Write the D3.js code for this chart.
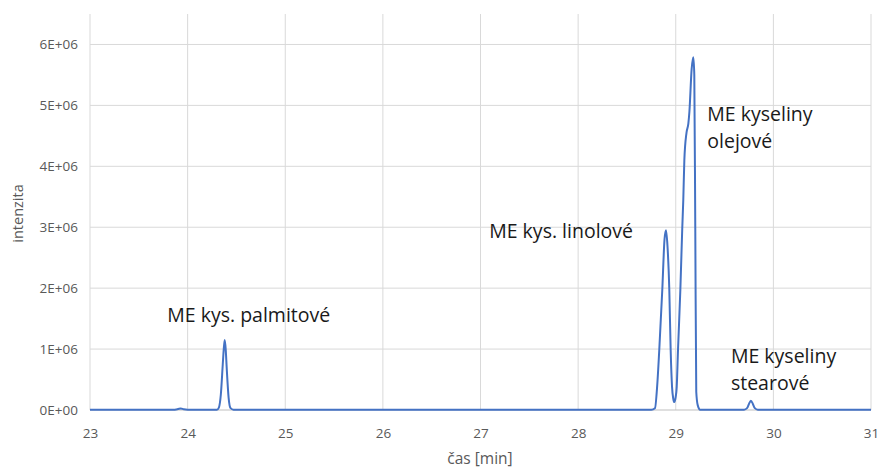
<!DOCTYPE html>
<html>
<head>
<meta charset="utf-8">
<script src="https://cdn.jsdelivr.net/npm/d3@7"></script>
<style>
  html, body { margin: 0; padding: 0; background: #fff; }
  svg { display: block; }
</style>
</head>
<body>
<svg id="chart" width="882" height="470"></svg>
<script>
// Chromatogram trace: retention time [min] and detector intensity
const times = [
  23.00, 23.85, 23.90, 23.93, 23.96, 24.00,
  24.30, 24.32, 24.34, 24.36, 24.37, 24.38, 24.39, 24.40, 24.42, 24.44, 24.47,
  28.75, 28.787, 28.81, 28.831, 28.862, 28.885, 28.900, 28.915, 28.934, 28.948, 28.962, 28.975, 28.985,
  28.998, 29.010, 29.023, 29.047, 29.067, 29.077, 29.088, 29.110, 29.129, 29.140, 29.163, 29.180,
  29.190, 29.200, 29.210, 29.225, 29.250,
  29.70, 29.73, 29.75, 29.77, 29.79, 29.81, 29.84,
  31.00
];
const intensity = [
  5000, 5000, 15000, 25000, 12000, 5000,
  5000, 40000, 250000, 750000, 1000000, 1150000, 1000000, 700000, 200000, 30000, 5000,
  5000, 30000, 400000, 980000, 1970000, 2800000, 2950000, 2700000, 1970000, 980000, 380000, 180000, 130000,
  200000, 380000, 980000, 1970000, 3000000, 3440000, 4100000, 4550000, 4700000, 4900000, 5600000, 5790000,
  5500000, 3000000, 300000, 80000, 5000,
  5000, 30000, 100000, 150000, 100000, 30000, 5000,
  5000
];

const yTicks = [0, 1e6, 2e6, 3e6, 4e6, 5e6, 6e6];
const yTickLabels = ["0E+00", "1E+06", "2E+06", "3E+06", "4E+06", "5E+06", "6E+06"];
const xTicks = [23, 24, 25, 26, 27, 28, 29, 30, 31];

const peakLabels = [
  { lines: ["ME kys. palmitové"], t: 24.38, v: 1.15e6, anchor: "middle", dx: 24, dy: -18 },
  { lines: ["ME kys. linolové"], t: 28.90, v: 2.95e6, anchor: "end", dx: -33, dy: 8 },
  { lines: ["ME kyseliny", "olejové"], t: 29.18, v: 5.79e6, anchor: "start", dx: 14, dy: 64 },
  { lines: ["ME kyseliny", "stearové"], t: 29.77, v: 0.15e6, anchor: "start", dx: -20, dy: -38 }
];

const svg = d3.select("#chart");
const plot = { left: 90, right: 871, top: 14, bottom: 410 };

const x = d3.scaleLinear().domain([23, 31]).range([plot.left, plot.right]);
const y = d3.scaleLinear().domain([0, 6.5e6]).range([plot.bottom, plot.top]);

const font = "'Open Sans', 'Noto Sans', sans-serif";

// Horizontal gridlines
svg.append("g")
  .selectAll("line")
  .data(yTicks.slice(1))
  .join("line")
  .attr("x1", plot.left).attr("x2", plot.right)
  .attr("y1", d => y(d)).attr("y2", d => y(d))
  .attr("stroke", "#d9d9d9").attr("stroke-width", 1);

// Vertical gridlines
svg.append("g")
  .selectAll("line")
  .data(xTicks)
  .join("line")
  .attr("x1", d => x(d)).attr("x2", d => x(d))
  .attr("y1", plot.top).attr("y2", plot.bottom)
  .attr("stroke", "#d9d9d9").attr("stroke-width", 1);

// Baseline axis
svg.append("line")
  .attr("x1", plot.left).attr("x2", plot.right)
  .attr("y1", y(0)).attr("y2", y(0))
  .attr("stroke", "#bfbfbf");

// Y axis tick labels
const yAxis = d3.axisLeft(y)
  .tickValues(yTicks)
  .tickSize(0)
  .tickPadding(12)
  .tickFormat((d, i) => yTickLabels[i]);
const gy = svg.append("g").attr("transform", `translate(${plot.left},0)`).call(yAxis);
gy.select(".domain").remove();
gy.selectAll("text").attr("fill", "#595959").style("font-family", font).style("font-size", "13.5px");

// X axis tick labels
const xAxis = d3.axisBottom(x).tickValues(xTicks).tickSize(0).tickPadding(18).tickFormat(d3.format("d"));
const gx = svg.append("g").attr("transform", `translate(0,${plot.bottom})`).call(xAxis);
gx.select(".domain").remove();
gx.selectAll("text").attr("fill", "#595959").style("font-family", font).style("font-size", "13.5px");

// Axis titles
svg.append("text")
  .attr("x", 480).attr("y", 464)
  .attr("text-anchor", "middle")
  .attr("fill", "#595959")
  .style("font-family", font).style("font-size", "15.5px")
  .text("čas [min]");

svg.append("text")
  .attr("transform", `translate(23,213.5) rotate(-90)`)
  .attr("text-anchor", "middle")
  .attr("fill", "#595959")
  .style("font-family", font).style("font-size", "14.5px")
  .text("intenzita");

// Trace
const points = times.map((t, i) => [t, intensity[i]]);
const line = d3.line().x(d => x(d[0])).y(d => y(d[1])).curve(d3.curveMonotoneX);
svg.append("path")
  .datum(points)
  .attr("d", line)
  .attr("fill", "none")
  .attr("stroke", "#4472c4")
  .attr("stroke-width", 2)
  .attr("stroke-linejoin", "round");

// Peak annotations
const ann = svg.append("g");
peakLabels.forEach(p => {
  const t = ann.append("text")
    .attr("x", x(p.t) + p.dx)
    .attr("y", y(p.v) + p.dy)
    .attr("text-anchor", p.anchor)
    .attr("fill", "#1a1a1a")
    .style("font-family", font).style("font-size", "19.5px");
  p.lines.forEach((l, i) => {
    t.append("tspan").attr("x", x(p.t) + p.dx).attr("dy", i === 0 ? 0 : 27).text(l);
  });
});
</script>
</body>
</html>
